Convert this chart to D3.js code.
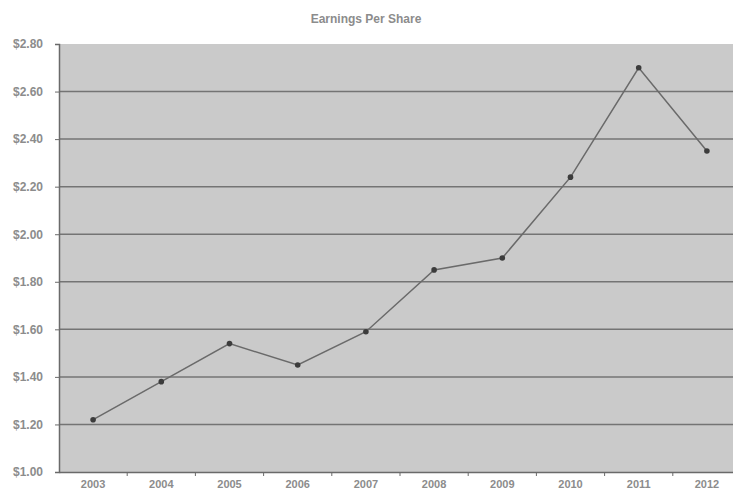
<!DOCTYPE html>
<html>
<head>
<meta charset="utf-8">
<script src="https://cdn.jsdelivr.net/npm/d3@7"></script>
<style>
  html, body { margin: 0; padding: 0; background: #fff; }
  svg { display: block; }
  text { font-family: "Liberation Sans", Arial, sans-serif; font-weight: bold; fill: #8c8c8c; }
</style>
</head>
<body>
<svg id="chart" width="733" height="492"></svg>
<script>
// Earnings per share by fiscal year
const years = ["2003", "2004", "2005", "2006", "2007", "2008", "2009", "2010", "2011", "2012"];
const eps = [1.22, 1.38, 1.54, 1.45, 1.59, 1.85, 1.90, 2.24, 2.70, 2.35];
const yTicks = [1.00, 1.20, 1.40, 1.60, 1.80, 2.00, 2.20, 2.40, 2.60, 2.80];
const title = "Earnings Per Share";

const svg = d3.select("#chart");
const plot = { left: 59, right: 741, top: 44, bottom: 472 };

const x = d3.scaleBand().domain(years).range([plot.left, plot.right]).padding(0);
const y = d3.scaleLinear().domain([1.0, 2.8]).range([plot.bottom, plot.top]);

// plot area
svg.append("rect")
  .attr("x", plot.left).attr("y", plot.top)
  .attr("width", plot.right - plot.left).attr("height", plot.bottom - plot.top)
  .attr("fill", "#cacaca");

// horizontal gridlines
svg.append("g")
  .selectAll("line")
  .data(yTicks.filter(d => d > 1.0 && d < 2.8))
  .join("line")
  .attr("x1", plot.left).attr("x2", plot.right)
  .attr("y1", d => y(d)).attr("y2", d => y(d))
  .attr("stroke", "#747474").attr("stroke-width", 1.5);

// y axis
const yAxis = d3.axisLeft(y)
  .tickValues(yTicks)
  .tickSize(4)
  .tickPadding(12)
  .tickFormat(d => "$" + d3.format(".2f")(d));
const gy = svg.append("g").attr("transform", `translate(${plot.left},0)`).call(yAxis);
gy.select(".domain").attr("stroke", "#6a6a6a").attr("stroke-width", 1.5);
gy.selectAll(".tick line").attr("stroke", "#6a6a6a");
gy.selectAll(".tick text").style("font-size", "12px").attr("fill", "#8c8c8c");

// x axis: labels centred in bands, ticks at band boundaries
const xAxis = d3.axisBottom(x).tickSize(0).tickPadding(8);
const gx = svg.append("g").attr("transform", `translate(0,${plot.bottom})`).call(xAxis);
gx.select(".domain").attr("stroke", "#6a6a6a").attr("stroke-width", 1.5);
gx.selectAll(".tick text").style("font-size", "11px").attr("fill", "#8c8c8c");
gx.selectAll(".boundary")
  .data(years.slice(1))
  .join("line")
  .attr("class", "boundary")
  .attr("x1", d => x(d)).attr("x2", d => x(d))
  .attr("y1", 0).attr("y2", 4)
  .attr("stroke", "#6a6a6a");

// EPS line
const cx = d => x(d) + x.bandwidth() / 2;
const line = d3.line()
  .x((d, i) => cx(years[i]))
  .y(d => y(d));
svg.append("path")
  .datum(eps)
  .attr("d", line)
  .attr("fill", "none")
  .attr("stroke", "#6a6a6a")
  .attr("stroke-width", 1.5);

svg.append("g")
  .selectAll("circle")
  .data(eps)
  .join("circle")
  .attr("cx", (d, i) => cx(years[i]))
  .attr("cy", d => y(d))
  .attr("r", 2.8)
  .attr("fill", "#3c3c3c");

// title
svg.append("text")
  .attr("x", 366).attr("y", 23)
  .attr("text-anchor", "middle")
  .style("font-size", "12px")
  .text(title);
</script>
</body>
</html>
